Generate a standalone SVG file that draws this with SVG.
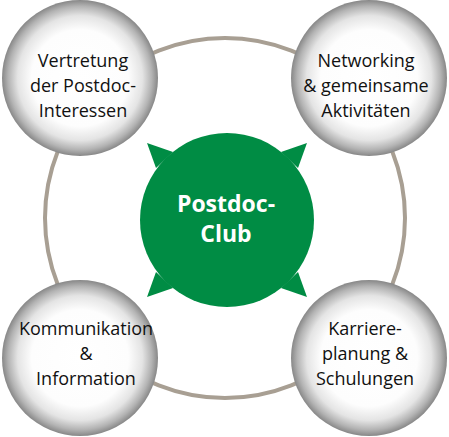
<svg xmlns="http://www.w3.org/2000/svg" width="449" height="437" viewBox="0 0 449 437">
  <defs>
    <radialGradient id="ball" cx="50%" cy="50%" r="50%">
      <stop offset="0" stop-color="#ffffff"/>
      <stop offset="0.62" stop-color="#fdfdfd"/>
      <stop offset="0.8" stop-color="#e4e4e4"/>
      <stop offset="0.92" stop-color="#b3b3b3"/>
      <stop offset="1" stop-color="#878787"/>
    </radialGradient>
    <style>
      .ball { fill: url(#ball); }
      .lbl { font-family: "Open Sans", "Liberation Sans", sans-serif; font-size: 18px; fill: #111111; text-anchor: middle; }
      .ctr { font-family: "Open Sans", "Liberation Sans", sans-serif; font-size: 23px; font-weight: bold; fill: #ffffff; text-anchor: middle; }
    </style>
  </defs>
  <rect width="449" height="437" fill="#ffffff"/>
  <g id="connectors">
    <circle cx="225" cy="218" r="180" fill="none" stroke="#a89f93" stroke-width="4"/>
  </g>
  <g id="center">
    <circle cx="227" cy="220" r="87" fill="#008c44"/>
    <polygon points="147,143 173,152 156,168" fill="#008c44"/>
    <polygon points="307,143 281,152 298,168" fill="#008c44"/>
    <polygon points="147,297 173,288 156,272" fill="#008c44"/>
    <polygon points="307,297 281,288 298,272" fill="#008c44"/>
    <text class="ctr" x="226" y="212">Postdoc-</text>
    <text class="ctr" x="226" y="242">Club</text>
  </g>
  <g id="node-tl">
    <circle class="ball" cx="80" cy="78" r="78"/>
    <text class="lbl" x="83" y="67">Vertretung</text>
    <text class="lbl" x="83" y="92">der Postdoc-</text>
    <text class="lbl" x="83" y="117">Interessen</text>
  </g>
  <g id="node-tr">
    <circle class="ball" cx="369" cy="78" r="78"/>
    <text class="lbl" x="366" y="67">Networking</text>
    <text class="lbl" x="366" y="92">&amp; gemeinsame</text>
    <text class="lbl" x="366" y="117">Aktivitäten</text>
  </g>
  <g id="node-bl">
    <circle class="ball" cx="80" cy="358" r="78"/>
    <text class="lbl" x="86" y="335">Kommunikation</text>
    <text class="lbl" x="86" y="360">&amp;</text>
    <text class="lbl" x="86" y="385">Information</text>
  </g>
  <g id="node-br">
    <circle class="ball" cx="369" cy="358" r="78"/>
    <text class="lbl" x="365" y="335">Karriere-</text>
    <text class="lbl" x="365" y="360">planung &amp;</text>
    <text class="lbl" x="365" y="385">Schulungen</text>
  </g>
</svg>
